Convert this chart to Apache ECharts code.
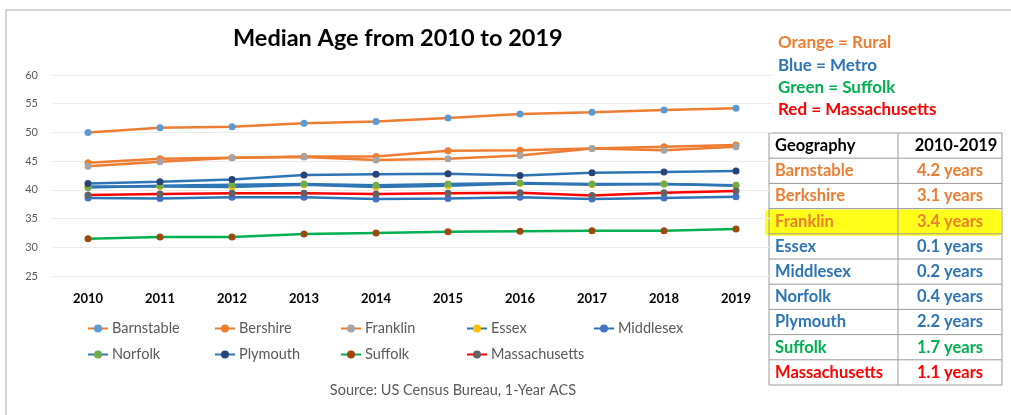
<!DOCTYPE html>
<html>
<head>
<meta charset="utf-8">
<script src="https://cdn.jsdelivr.net/npm/echarts@6/dist/echarts.min.js"></script>
<style>
html,body{margin:0;padding:0;background:#fff;}
#chart{width:1011px;height:415px;}
</style>
</head>
<body>
<div id="chart"></div>
<script>
const years = ['2010','2011','2012','2013','2014','2015','2016','2017','2018','2019'];
const barnstable    = [50.0, 50.8, 51.0, 51.6, 51.9, 52.5, 53.2, 53.5, 53.9, 54.2];
const bershire      = [44.7, 45.4, 45.6, 45.8, 45.8, 46.8, 46.9, 47.2, 47.5, 47.8];
const franklin      = [44.1, 44.9, 45.6, 45.7, 45.2, 45.4, 46.0, 47.2, 46.9, 47.5];
const essex         = [40.6, 40.6, 40.5, 40.9, 40.5, 40.7, 41.1, 40.9, 41.0, 40.7];
const middlesex     = [38.6, 38.5, 38.7, 38.7, 38.4, 38.5, 38.7, 38.4, 38.6, 38.8];
const norfolk       = [40.4, 40.7, 40.9, 41.0, 40.8, 41.0, 41.2, 41.0, 41.0, 40.8];
const plymouth      = [41.1, 41.4, 41.8, 42.6, 42.7, 42.8, 42.5, 43.0, 43.1, 43.3];
const suffolk       = [31.5, 31.8, 31.8, 32.3, 32.5, 32.7, 32.8, 32.9, 32.9, 33.2];
const massachusetts = [39.1, 39.3, 39.4, 39.4, 39.3, 39.4, 39.5, 39.0, 39.5, 39.8];

const seriesNames = ['Barnstable','Bershire','Franklin','Essex','Middlesex','Norfolk','Plymouth','Suffolk','Massachusetts'];
const seriesData = [barnstable, bershire, franklin, essex, middlesex, norfolk, plymouth, suffolk, massachusetts];
const lineColors = ['#ED7D31','#ED7D31','#ED7D31','#2E75B6','#2E75B6','#2E75B6','#2E75B6','#00B050','#FF0000'];
const markerColors = ['#5B9BD5','#ED7D31','#A5A5A5','#FFC000','#4472C4','#70AD47','#264478','#9E480E','#636363'];

const keyTexts = ['Orange = Rural','Blue = Metro','Green = Suffolk','Red = Massachusetts'];
const keyColors = ['#ED7D31','#2E75B6','#00B050','#FF0000'];

const tableHeader = ['Geography','2010-2019'];
const tableGeo = ['Barnstable','Berkshire','Franklin','Essex','Middlesex','Norfolk','Plymouth','Suffolk','Massachusetts'];
const tableChange = ['4.2 years','3.1 years','3.4 years','0.1 years','0.2 years','0.4 years','2.2 years','1.7 years','1.1 years'];
const tableColors = ['#ED7D31','#ED7D31','#ED7D31','#2E75B6','#2E75B6','#2E75B6','#2E75B6','#00B050','#FF0000'];
const highlightedRow = 'Franklin';

const titleText = 'Median Age from 2010 to 2019';
const sourceText = 'Source: US Census Bureau, 1-Year ACS';

const FONT = 'Lato';
const chart = echarts.init(document.getElementById('chart'));

// legend layout (Excel-like fixed columns)
const legendCols = [87, 214, 340, 466, 593];
const legendRows = [321, 347];
const legends = seriesNames.map((n, i) => ({
  data: [n],
  left: legendCols[i % 5],
  top: legendRows[Math.floor(i / 5)],
  padding: 0,
  itemWidth: 20,
  itemHeight: 10,
  itemGap: 0,
  textStyle: { fontFamily: FONT, fontSize: 14.5, color: '#595959', padding: [0,0,0,-1] }
}));

// table graphic
const tX = 769, tMid = 898, tR = 1002, tTop = 133, rowH = 25.2;
const nRows = tableGeo.length + 1;
const graphics = [];
graphics.push({ type: 'rect', shape: { x: 6, y: 10, width: 1010, height: 410 }, style: { fill: 'none', stroke: '#c8c8c8', lineWidth: 1.5 }, silent: true });
const hi = tableGeo.indexOf(highlightedRow);
graphics.push({ type: 'rect', shape: { x: 765, y: tTop + (hi + 1) * rowH + 1, width: 236, height: rowH + 1, r: 4 }, style: { fill: 'rgba(255,255,0,0.9)' }, silent: true });
for (let r = 0; r <= nRows; r++) {
  graphics.push({ type: 'line', shape: { x1: tX, y1: tTop + r * rowH, x2: tR, y2: tTop + r * rowH }, style: { stroke: '#9a9a9a', lineWidth: 1 }, silent: true });
}
[tX, tMid, tR].forEach(x => graphics.push({ type: 'line', shape: { x1: x, y1: tTop, x2: x, y2: tTop + nRows * rowH }, style: { stroke: '#9a9a9a', lineWidth: 1 }, silent: true }));
const rowsText = [[tableHeader[0], tableHeader[1], '#000']].concat(tableGeo.map((g, i) => [g, tableChange[i], tableColors[i]]));
rowsText.forEach((row, r) => {
  const cy = tTop + r * rowH + rowH / 2;
  graphics.push({ type: 'text', x: tX + 6, y: cy, style: { text: row[0], fill: row[2], font: 'bold 16.5px ' + FONT, verticalAlign: 'middle' } });
  graphics.push({ type: 'text', x: (tMid + tR) / 2 + (r === 0 ? 6 : 0), y: cy, style: { text: row[1], fill: row[2], font: 'bold 16.5px ' + FONT, align: 'center', verticalAlign: 'middle' } });
});
keyTexts.forEach((t, i) => {
  graphics.push({ type: 'text', x: 778, y: 43 + i * 22.3, style: { text: t, fill: keyColors[i], font: 'bold 17px ' + FONT, verticalAlign: 'middle' } });
});
graphics.push({ type: 'text', x: 453, y: 390, style: { text: sourceText, fill: '#595959', font: '14.5px ' + FONT, align: 'center', verticalAlign: 'middle' } });

const option = {
  backgroundColor: '#fff',
  animation: false,
  title: { text: titleText, left: 233, top: 26, padding: 0, textStyle: { fontFamily: FONT, fontWeight: 'bold', fontSize: 23.5, color: '#000' } },
  legend: legends,
  grid: { left: 52, right: 239, top: 75, bottom: 139, containLabel: false },
  xAxis: {
    type: 'category', data: years, boundaryGap: true,
    axisLine: { show: false }, axisTick: { show: false },
    axisLabel: { fontFamily: FONT, fontWeight: 'bold', fontSize: 13, color: '#000', margin: 16 },
    splitLine: { show: false }
  },
  yAxis: {
    type: 'value', min: 25, max: 60, interval: 5,
    axisLine: { show: false }, axisTick: { show: false },
    axisLabel: { fontFamily: FONT, fontSize: 11, color: '#595959', margin: 14 },
    splitLine: { lineStyle: { color: '#ececec', width: 1 } }
  },
  series: seriesNames.map((n, i) => ({
    name: n, type: 'line', data: seriesData[i],
    symbol: 'circle', symbolSize: 7,
    lineStyle: { color: lineColors[i], width: 2.5 },
    itemStyle: { color: markerColors[i] },
    emphasis: { disabled: true }
  })),
  graphic: graphics
};
chart.setOption(option);
</script>
</body>
</html>
